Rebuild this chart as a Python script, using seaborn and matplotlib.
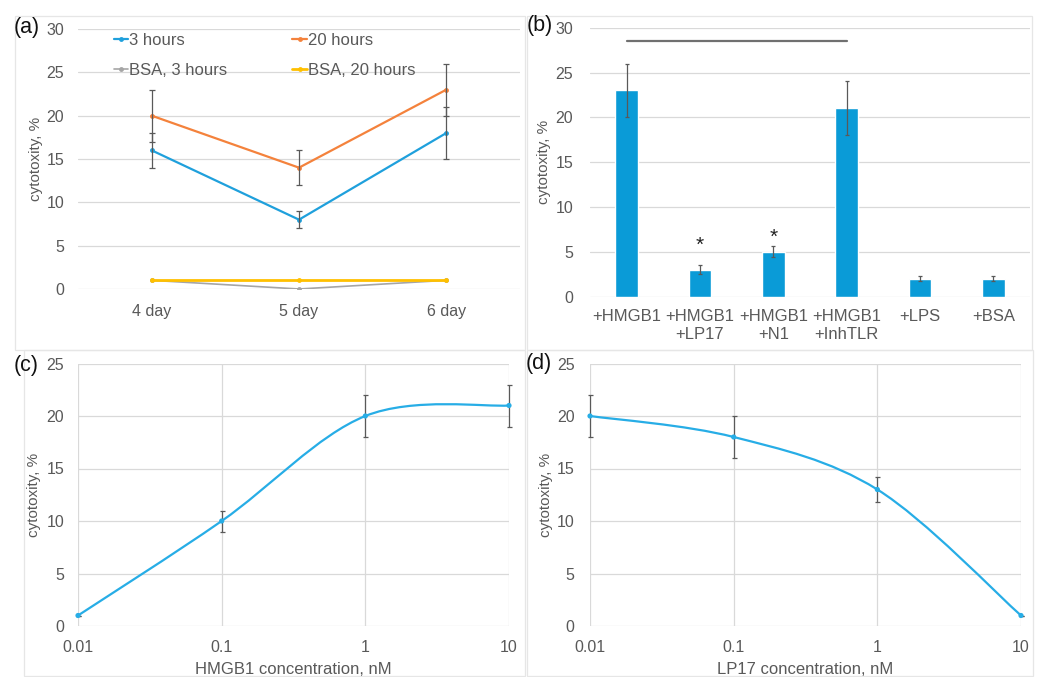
import numpy as np
import pandas as pd
import matplotlib
matplotlib.use("Agg")
import matplotlib.pyplot as plt
import seaborn as sns
from matplotlib.path import Path
from matplotlib.patches import PathPatch, Rectangle

sns.set_theme(style="white")
plt.rcParams['font.family'] = ['Liberation Sans', 'DejaVu Sans']

# ---------------- data ----------------
days = ["4 day", "5 day", "6 day"]
h3 = [16, 8, 18]
h3_err = [2, 1, 3]
h20 = [20, 14, 23]
h20_err = [3, 2, 3]
bsa3 = [1, 0, 1]
bsa20 = [1, 1, 1]

treatments = ["+HMGB1", "+HMGB1\n+LP17", "+HMGB1\n+N1", "+HMGB1\n+InhTLR", "+LPS", "+BSA"]
treat_vals = [23, 3, 5, 21, 2, 2]
treat_err = [3, 0.5, 0.6, 3, 0.3, 0.3]
star_idx = [1, 2]
star_levels = [6.5, 7.3]
bracket_from, bracket_to, bracket_level = 0, 3, 28.5

conc = [0.01, 0.1, 1, 10]
hmgb1_vals = [1, 10, 20, 21]
hmgb1_err = [0, 1, 2, 2]
lp17_vals = [20, 18, 13, 1]
lp17_err = [2, 2, 1.2, 0]

# ---------------- style ----------------
W, H = 1043, 677
fig = plt.figure(figsize=(W / 100, H / 100), dpi=100)
TXT = "#595959"
GRID = "#D9D9D9"
ERR = "#595959"
C3, C20, CB3, CB20 = "#1FA0DC", "#F4823C", "#A5A5A5", "#FFC000"
BAR = "#0A9BD7"
CURVE = "#27ADE6"
TICK_FS = 11.5
YLAB_FS = 11


def ax_at(x0, y_top, x1, y_bot):
    return fig.add_axes([x0 / W, 1 - y_bot / H, (x1 - x0) / W, (y_bot - y_top) / H])


def style(ax, xgrid=False):
    for s in ax.spines.values():
        s.set_visible(False)
    ax.grid(True, axis="y", color=GRID, lw=0.9)
    if xgrid:
        ax.grid(True, axis="x", color=GRID, lw=0.9)
    ax.tick_params(length=0, labelsize=TICK_FS, colors=TXT)
    ax.set_axisbelow(True)
    ax.set_facecolor("none")


# panel borders
for (x0, y0, x1, y1) in [(15, 16, 525, 350), (527, 16, 1032, 350), (24, 350, 525, 676), (527, 350, 1033, 676)]:
    fig.add_artist(Rectangle((x0 / W, 1 - y1 / H), (x1 - x0) / W, (y1 - y0) / H,
                             transform=fig.transFigure, fill=False, ec="#E6E6E6", lw=0.9))

# ---------------- (a) ----------------
axa = ax_at(78, 29, 520, 289)
pos = np.arange(len(days))
df_a = pd.DataFrame({
    "x": np.tile(pos, 4),
    "y": h3 + h20 + bsa3 + bsa20,
    "series": ["3 hours"] * 3 + ["20 hours"] * 3 + ["BSA, 3 hours"] * 3 + ["BSA, 20 hours"] * 3,
})
order = ["3 hours", "20 hours", "BSA, 3 hours", "BSA, 20 hours"]
pal = dict(zip(order, [C3, C20, CB3, CB20]))
lws = {"3 hours": 1.6, "20 hours": 1.6, "BSA, 3 hours": 1.2, "BSA, 20 hours": 2.0}
for name in order:
    sub = df_a[df_a.series == name]
    sns.lineplot(data=sub, x="x", y="y", ax=axa, color=pal[name], lw=lws[name],
                 marker="o", markersize=3.5, markeredgewidth=0, label=name)
axa.errorbar(pos, h3, yerr=h3_err, fmt="none", ecolor=ERR, elinewidth=0.9, capsize=2, capthick=0.9)
axa.errorbar(pos, h20, yerr=h20_err, fmt="none", ecolor=ERR, elinewidth=0.9, capsize=2, capthick=0.9)
axa.set_xlim(-0.5, len(days) - 0.5)
axa.set_ylim(0, 30)
axa.set_yticks(range(0, 31, 5))
axa.set_xticks(pos)
axa.set_xticklabels(days)
style(axa)
axa.tick_params(axis="y", pad=10)
axa.tick_params(axis="x", pad=11)
axa.set_xlabel("")
axa.set_ylabel("cytotoxity, %", fontsize=YLAB_FS, color=TXT)
axa.yaxis.set_label_coords(-0.079, 0.5)
handles, labels = axa.get_legend_handles_labels()
hd = dict(zip(labels, handles))
leg_order = ["3 hours", "BSA, 3 hours", "20 hours", "BSA, 20 hours"]  # column-wise fill
axa.legend([hd[k] for k in leg_order], leg_order, loc="upper left",
           bbox_to_anchor=(0.066, 1.012), borderaxespad=0, ncol=2, frameon=False,
           fontsize=12, handlelength=0.85, handletextpad=0.08, columnspacing=3.9,
           labelspacing=0.92, labelcolor=TXT)

# ---------------- (b) ----------------
axb = ax_at(590, 27.7, 1030, 296.7)
sns.barplot(x=list(range(len(treatments))), y=treat_vals, ax=axb, color=BAR, width=0.31,
            saturation=1)
bpos = np.arange(len(treatments))
axb.errorbar(bpos, treat_vals, yerr=treat_err, fmt="none", ecolor=ERR, elinewidth=0.9, capsize=1.5, capthick=0.9)
for i, lvl in zip(star_idx, star_levels):
    axb.text(bpos[i], lvl - 1.33, "*", ha="center", va="baseline",
             fontsize=15, color="#222222")
axb.plot([bracket_from, bracket_to], [bracket_level, bracket_level], color="#707070", lw=1.6)
axb.set_xlim(-0.5, len(treatments) - 0.5)
axb.set_ylim(0, 30)
axb.set_yticks(range(0, 31, 5))
axb.set_xticks(bpos)
axb.set_xticklabels(treatments, linespacing=1.25)
style(axb)
axb.tick_params(axis="x", labelsize=12, pad=9)
axb.tick_params(axis="y", pad=12)
axb.set_ylabel("cytotoxity, %", fontsize=YLAB_FS, color=TXT)
axb.yaxis.set_label_coords(-0.089, 0.5)


# ---------------- (c), (d) ----------------
def smooth_curve(ax, xs, ys, color):
    """Excel-style smoothed line: cubic Bezier through the data points in display space."""
    fig.canvas.draw()
    pts = ax.transData.transform(np.column_stack([xs, ys]))
    n = len(pts)
    verts = [pts[0]]
    codes = [Path.MOVETO]
    for i in range(n - 1):
        p0 = pts[max(i - 1, 0)]
        p1 = pts[i]
        p2 = pts[i + 1]
        p3 = pts[min(i + 2, n - 1)]
        c1 = p1 + (p2 - p0) / 6.0
        c2 = p2 - (p3 - p1) / 6.0
        verts += [c1, c2, p2]
        codes += [Path.CURVE4] * 3
    verts = ax.transAxes.inverted().transform(np.array(verts))
    ax.add_patch(PathPatch(Path(verts, codes), transform=ax.transAxes, fill=False,
                           ec=color, lw=1.6, clip_on=False))


def conc_panel(box, vals, err, xlabel):
    ax = ax_at(*box)
    sns.scatterplot(x=conc, y=vals, ax=ax, color=CURVE, s=14, edgecolor="none", zorder=4, clip_on=False)
    eb = ax.errorbar(conc, vals, yerr=err, fmt="none", ecolor=ERR, elinewidth=0.9, capsize=1.8, capthick=0.9)
    for art in eb.lines[1] + eb.lines[2]:
        art.set_clip_on(False)
    ax.set_xscale("log")
    ax.set_xlim(conc[0], conc[-1])
    ax.set_ylim(0, 25)
    ax.set_yticks(range(0, 26, 5))
    ax.set_xticks(conc)
    ax.set_xticklabels([f"{c:g}" for c in conc])
    ax.minorticks_off()
    style(ax, xgrid=True)
    ax.tick_params(axis="x", pad=10)
    ax.set_xlabel(xlabel, fontsize=12, color=TXT, labelpad=5)
    ax.set_ylabel("cytotoxity, %", fontsize=YLAB_FS, color=TXT)
    smooth_curve(ax, conc, vals, CURVE)
    return ax


axc = conc_panel((78, 363.5, 509, 626), hmgb1_vals, hmgb1_err, "HMGB1 concentration, nM")
axc.tick_params(axis="y", pad=10)
axc.yaxis.set_label_coords(-0.086, 0.5)
axd = conc_panel((590, 363.5, 1021, 626), lp17_vals, lp17_err, "LP17 concentration, nM")
axd.tick_params(axis="y", pad=11)
axd.yaxis.set_label_coords(-0.086, 0.5)

# panel letters
for lab, x, y in [("(a)", 14, 27), ("(b)", 527, 25), ("(c)", 14, 365), ("(d)", 526, 363)]:
    fig.text(x / W, 1 - y / H, lab, fontsize=15.5, color="#111111", va="center", ha="left")

fig.savefig("out.png", dpi=100)
